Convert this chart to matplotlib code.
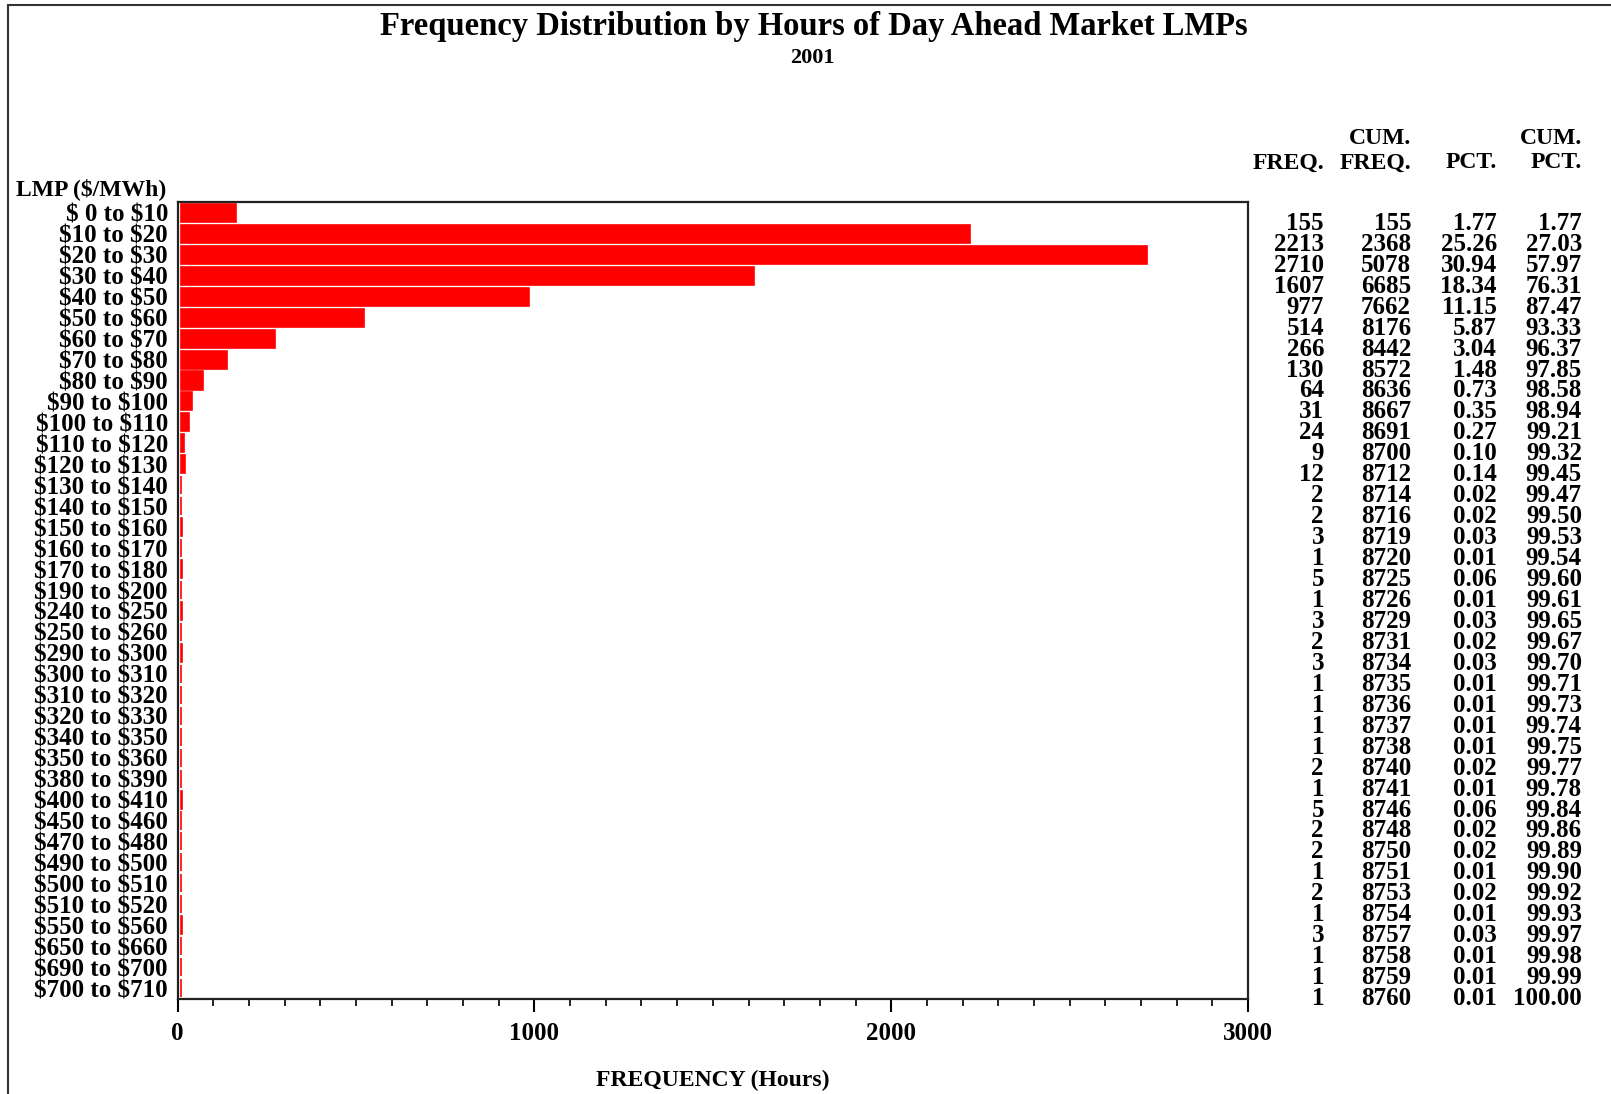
import matplotlib
matplotlib.use("Agg")
import matplotlib.pyplot as plt
import matplotlib.transforms as mtransforms
from matplotlib.ticker import MultipleLocator
from matplotlib.patches import Rectangle

plt.rcParams['font.family'] = ['Liberation Serif', 'DejaVu Serif']
plt.rcParams['font.weight'] = 'bold'
plt.rcParams['text.parse_math'] = False

categories = ["$ 0 to $10", "$10 to $20", "$20 to $30", "$30 to $40", "$40 to $50",
              "$50 to $60", "$60 to $70", "$70 to $80", "$80 to $90", "$90 to $100",
              "$100 to $110", "$110 to $120", "$120 to $130", "$130 to $140", "$140 to $150",
              "$150 to $160", "$160 to $170", "$170 to $180", "$190 to $200", "$240 to $250",
              "$250 to $260", "$290 to $300", "$300 to $310", "$310 to $320", "$320 to $330",
              "$340 to $350", "$350 to $360", "$380 to $390", "$400 to $410", "$450 to $460",
              "$470 to $480", "$490 to $500", "$500 to $510", "$510 to $520", "$550 to $560",
              "$650 to $660", "$690 to $700", "$700 to $710"]
freq = [155, 2213, 2710, 1607, 977, 514, 266, 130, 64, 31, 24, 9, 12, 2, 2, 3, 1, 5, 1,
        3, 2, 3, 1, 1, 1, 1, 2, 1, 5, 2, 2, 1, 2, 1, 3, 1, 1, 1]
cum_freq = [155, 2368, 5078, 6685, 7662, 8176, 8442, 8572, 8636, 8667, 8691, 8700, 8712,
            8714, 8716, 8719, 8720, 8725, 8726, 8729, 8731, 8734, 8735, 8736, 8737, 8738,
            8740, 8741, 8746, 8748, 8750, 8751, 8753, 8754, 8757, 8758, 8759, 8760]
pct = ["1.77", "25.26", "30.94", "18.34", "11.15", "5.87", "3.04", "1.48", "0.73", "0.35",
       "0.27", "0.10", "0.14", "0.02", "0.02", "0.03", "0.01", "0.06", "0.01", "0.03",
       "0.02", "0.03", "0.01", "0.01", "0.01", "0.01", "0.02", "0.01", "0.06", "0.02",
       "0.02", "0.01", "0.02", "0.01", "0.03", "0.01", "0.01", "0.01"]
cum_pct = ["1.77", "27.03", "57.97", "76.31", "87.47", "93.33", "96.37", "97.85", "98.58",
           "98.94", "99.21", "99.32", "99.45", "99.47", "99.50", "99.53", "99.54", "99.60",
           "99.61", "99.65", "99.67", "99.70", "99.71", "99.73", "99.74", "99.75", "99.77",
           "99.78", "99.84", "99.86", "99.89", "99.90", "99.92", "99.93", "99.97", "99.98",
           "99.99", "100.00"]
xticks = [0, 1000, 2000, 3000]

W, H = 1611, 1094
fig = plt.figure(figsize=(W / 100, H / 100), dpi=100)

# outer frame
fig.patches.append(Rectangle((8 / W, -0.01), 1.02, 1 - 5 / H + 0.01, transform=fig.transFigure,
                             fill=False, edgecolor='#333333', linewidth=1.5))

ax_l, ax_r, ax_t, ax_b = 177.7, 1248, 202.4, 998.6
ax = fig.add_axes([ax_l / W, 1 - ax_b / H, (ax_r - ax_l) / W, (ax_b - ax_t) / H])

y = list(range(len(categories)))
ax.barh(y, freq, height=0.86, color='#ff0000', edgecolor='#ff0000', linewidth=1.2, left=8)
ax.set_ylim(len(categories) - 0.5, -0.5)
ax.set_xlim(0, 3000)
ax.set_yticks(y)
ax.set_yticklabels(categories, fontsize=18, fontweight='bold')
ax.tick_params(axis='y', length=0, pad=7)
ax.set_xticks(xticks)
ax.set_xticklabels([str(v) for v in xticks], fontsize=18, fontweight='bold')
ax.xaxis.set_minor_locator(MultipleLocator(100))
ax.tick_params(axis='x', which='major', length=9, width=1.5, direction='out', pad=8)
ax.tick_params(axis='x', which='minor', length=5, width=1.2, direction='out')
for s in ax.spines.values():
    s.set_linewidth(1.6)
    s.set_color('#222222')
ax.set_xlabel("FREQUENCY (Hours)", fontsize=17, fontweight='bold', labelpad=18)

fig.text(814 / W, 1 - 26 / H, "Frequency Distribution by Hours of Day Ahead Market LMPs",
         ha='center', va='center', fontsize=23.5, fontweight='bold')
fig.text(812 / W, 1 - 58 / H, "2001", ha='center', va='center', fontsize=16, fontweight='bold')
fig.text(16 / W, 1 - 189 / H, "LMP ($/MWh)", ha='left', va='center', fontsize=17, fontweight='bold')

# table
trans = mtransforms.blended_transform_factory(fig.transFigure, ax.transData)
cols_x = [1324, 1411, 1497, 1582]
cols = [[str(v) for v in freq], [str(v) for v in cum_freq], pct, cum_pct]
for cx, col in zip(cols_x, cols):
    for i, v in enumerate(col):
        ax.text(cx / W, i + 0.5, v, transform=trans, ha='right', va='center',
                fontsize=18, fontweight='bold', clip_on=False)
headers1 = ["", "CUM.", "", "CUM."]
headers2 = ["FREQ.", "FREQ.", "PCT.", "PCT."]
for cx, h1, h2 in zip(cols_x, headers1, headers2):
    if h1:
        fig.text(cx / W, 1 - 138 / H, h1, ha='right', va='center', fontsize=17, fontweight='bold')
    fig.text(cx / W, 1 - 163 / H, h2, ha='right', va='center', fontsize=17, fontweight='bold')

fig.savefig("out.png", dpi=100)
